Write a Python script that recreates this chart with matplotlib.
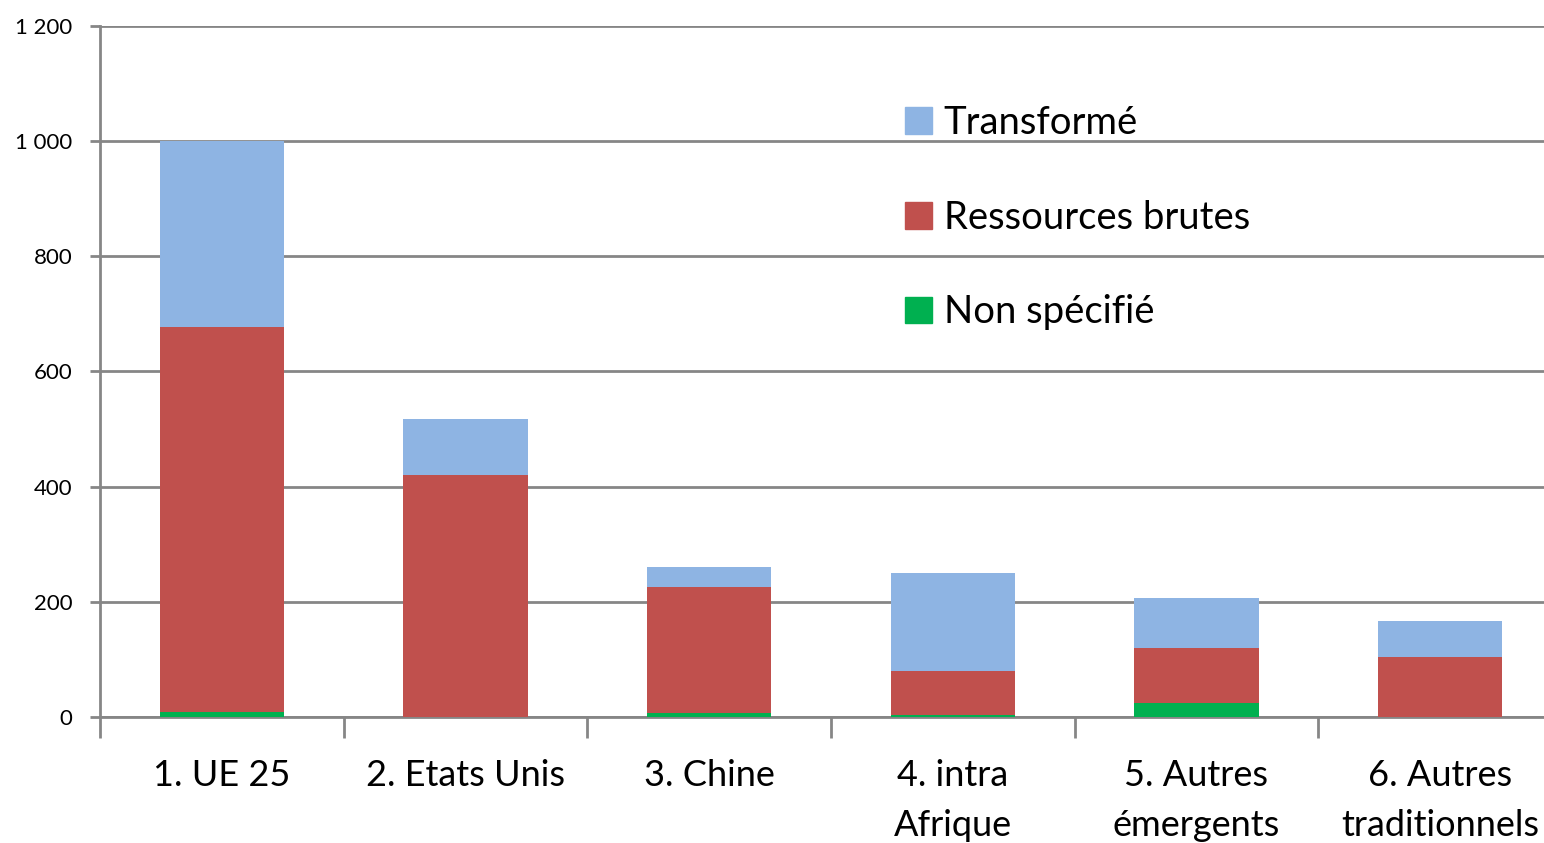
import matplotlib.pyplot as plt
from matplotlib.patches import Patch
from matplotlib.ticker import FuncFormatter
import numpy as np

# Exports by destination
categories = ['1. UE 25', '2. Etats Unis', '3. Chine', '4. intra\nAfrique',
              '5. Autres\némergents', '6. Autres\ntraditionnels']
non_specifie = [9, 0, 7, 3, 24, 0]
ressources_brutes = [669, 421, 219, 77, 96, 104]
transforme = [322, 96, 35, 170, 87, 63]

col_green = '#00B050'
col_red = '#C0504D'
col_blue = '#8EB4E3'
grey = '#868686'

plt.rcParams['font.family'] = ['Lato', 'DejaVu Sans']

fig = plt.figure(figsize=(15.44, 8.43), dpi=100)
ax = fig.add_axes([100 / 1544, 126 / 843, 1462 / 1544, 691 / 843])

x = np.arange(len(categories))
w = 0.51
g = np.array(non_specifie)
r = np.array(ressources_brutes)
b = np.array(transforme)
ax.bar(x, g, w, color=col_green, zorder=3)
ax.bar(x, r, w, bottom=g, color=col_red, zorder=3)
ax.bar(x, b, w, bottom=g + r, color=col_blue, zorder=3)

ax.set_xlim(-0.5, len(categories) - 0.5)
ax.set_ylim(0, 1200)
ax.set_yticks(range(0, 1201, 200))
ax.yaxis.set_major_formatter(FuncFormatter(lambda v, p: f'{int(v):,}'.replace(',', ' ')))
ax.grid(axis='y', color=grey, linewidth=2, zorder=0)

# category separators as x ticks
ax.set_xticks(np.arange(-0.5, len(categories), 1.0))
ax.set_xticklabels([])
ax.tick_params(axis='x', length=15, width=2, color=grey, direction='out')
ax.set_xticks(x, minor=True)
ax.set_xticklabels(categories, minor=True, fontsize=26, linespacing=1.65, va='top')
ax.tick_params(axis='x', which='minor', length=0, pad=30)
ax.tick_params(axis='y', length=7, width=2, color=grey, labelsize=16, pad=13)

for s in ['top', 'right']:
    ax.spines[s].set_visible(False)
for s in ['left', 'bottom']:
    ax.spines[s].set_color(grey)
    ax.spines[s].set_linewidth(2)

handles = [Patch(color=col_blue, label='Transformé'),
           Patch(color=col_red, label='Ressources brutes'),
           Patch(color=col_green, label='Non spécifié')]
ax.legend(handles=handles, loc='upper left', bbox_to_anchor=(0.5405, 0.908),
          frameon=False, fontsize=27.5, handlelength=0.7, handleheight=0.7,
          handletextpad=0.3, labelspacing=1.54, borderaxespad=0)

fig.savefig('out.png', dpi=100)
